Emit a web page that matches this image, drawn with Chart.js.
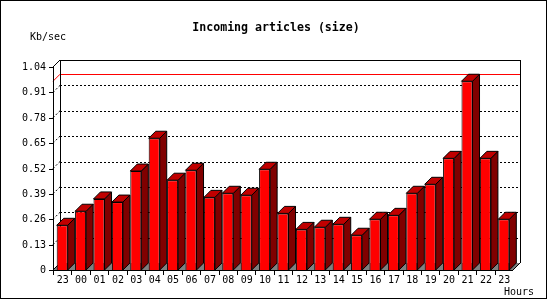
<!DOCTYPE html>
<html>
<head>
<meta charset="utf-8">
<script src="https://cdn.jsdelivr.net/npm/chart.js@4.4.1/dist/chart.umd.min.js"></script>
<style>
  html, body { margin: 0; padding: 0; background: #fff; }
  #wrap { width: 550px; height: 300px; }
</style>
</head>
<body>
<div id="wrap"><canvas id="myChart" width="550" height="300"></canvas></div>
<script>
// Incoming articles (size), Kb/sec per hour
var hours = ["23", "00", "01", "02", "03", "04", "05", "06", "07", "08", "09", "10",
  "11", "12", "13", "14", "15", "16", "17", "18", "19", "20", "21", "22", "23"];
var sizeKb = [0.229, 0.301, 0.364, 0.348, 0.507, 0.675, 0.460, 0.511, 0.372, 0.393,
  0.383, 0.516, 0.290, 0.208, 0.219, 0.234, 0.178, 0.260, 0.280, 0.393,
  0.439, 0.572, 0.967, 0.572, 0.260];
var yTicks = [0, 0.13, 0.26, 0.39, 0.52, 0.65, 0.78, 0.91, 1.04];
var yTickLabels = ["0", "0.13", "0.26", "0.39", "0.52", "0.65", "0.78", "0.91", "1.04"];

var DEPTH = 7;
var FONT = '"DejaVu Sans Mono", "Liberation Mono", monospace';

function px(v) {
  return Math.round(v) + 0.5;
}

function line(ctx, x1, y1, x2, y2) {
  ctx.beginPath();
  ctx.moveTo(x1, y1);
  ctx.lineTo(x2, y2);
  ctx.stroke();
}

var box3d = {
  id: "box3d",
  beforeDraw: function (chart) {
    var ctx = chart.ctx;
    ctx.save();
    ctx.fillStyle = "#fff";
    ctx.fillRect(0, 0, chart.width, chart.height);
    ctx.strokeStyle = "#000";
    ctx.lineWidth = 1;
    ctx.strokeRect(0.5, 0.5, 546, 298);

    ctx.fillStyle = "#000";
    ctx.textAlign = "center";
    ctx.textBaseline = "middle";
    ctx.font = "bold 11.6px " + FONT;
    ctx.fillText("Incoming articles (size)", 276, 28);
    ctx.font = "10px " + FONT;
    ctx.textAlign = "left";
    ctx.fillText("Kb/sec", 30, 37);
    ctx.textAlign = "right";
    ctx.fillText("Hours", 534, 292);
    ctx.restore();
  },
  beforeDatasetsDraw: function (chart) {
    var ctx = chart.ctx;
    var a = chart.chartArea;
    var y = chart.scales.y;
    var L = a.left, R = a.right, T = a.top, B = a.bottom;
    ctx.save();
    ctx.lineWidth = 1;

    // floor
    ctx.fillStyle = "#808080";
    ctx.beginPath();
    ctx.moveTo(L, B);
    ctx.lineTo(R, B);
    ctx.lineTo(R + DEPTH, B - DEPTH);
    ctx.lineTo(L + DEPTH, B - DEPTH);
    ctx.closePath();
    ctx.fill();

    // dotted grid on back wall and left wall
    ctx.strokeStyle = "#000";
    ctx.setLineDash([2, 2]);
    yTicks.forEach(function (v) {
      if (v <= 0 || v >= y.max) return;
      var yy = y.getPixelForValue(v);
      line(ctx, L + DEPTH, px(yy - DEPTH), R + DEPTH, px(yy - DEPTH));
      line(ctx, L, yy, L + DEPTH, yy - DEPTH);
    });
    ctx.setLineDash([]);

    // max line
    var maxV = Math.max.apply(null, sizeKb);
    var ym = y.getPixelForValue(maxV);
    ctx.strokeStyle = "#ff0000";
    line(ctx, L + DEPTH, px(ym - DEPTH), R + DEPTH, px(ym - DEPTH));
    line(ctx, L, ym, L + DEPTH, ym - DEPTH);

    // walls
    ctx.strokeStyle = "#000";
    line(ctx, px(L + DEPTH), T - DEPTH, px(L + DEPTH), B - DEPTH);
    line(ctx, L + DEPTH, px(T - DEPTH), R + DEPTH, px(T - DEPTH));
    line(ctx, px(R + DEPTH), T - DEPTH, px(R + DEPTH), B - DEPTH);
    line(ctx, L, T, L + DEPTH, T - DEPTH);
    line(ctx, L, B, L + DEPTH, B - DEPTH);
    line(ctx, R, B, R + DEPTH, B - DEPTH);

    // bar tops and sides
    var meta = chart.getDatasetMeta(0);
    meta.data.forEach(function (bar) {
      var l = bar.x - bar.width / 2;
      var r = bar.x + bar.width / 2;
      var t = bar.y;
      var b = bar.base;
      ctx.fillStyle = "#800000";
      ctx.beginPath();
      ctx.moveTo(r, t);
      ctx.lineTo(r + DEPTH, t - DEPTH);
      ctx.lineTo(r + DEPTH, b - DEPTH);
      ctx.lineTo(r, b);
      ctx.closePath();
      ctx.fill();
      ctx.stroke();
      ctx.fillStyle = "#c00000";
      ctx.beginPath();
      ctx.moveTo(l, t);
      ctx.lineTo(l + DEPTH, t - DEPTH);
      ctx.lineTo(r + DEPTH, t - DEPTH);
      ctx.lineTo(r, t);
      ctx.closePath();
      ctx.fill();
      ctx.stroke();
    });
    ctx.restore();
  },
  afterDatasetsDraw: function (chart) {
    var ctx = chart.ctx;
    var a = chart.chartArea;
    var x = chart.scales.x;
    var y = chart.scales.y;
    ctx.save();
    ctx.strokeStyle = "#000";
    ctx.fillStyle = "#000";
    ctx.lineWidth = 1;

    // front axes
    line(ctx, px(a.left), a.top, px(a.left), a.bottom + 1);
    line(ctx, a.left, px(a.bottom), a.right, px(a.bottom));

    ctx.font = "10px " + FONT;
    ctx.textBaseline = "middle";
    ctx.textAlign = "right";
    yTicks.forEach(function (v, i) {
      var yy = px(y.getPixelForValue(v));
      line(ctx, a.left - 4, yy, a.left, yy);
      ctx.fillText(yTickLabels[i], a.left - 7, yy);
    });

    ctx.textAlign = "center";
    hours.forEach(function (h, i) {
      var xb = px(x.getPixelForValue(i - 0.5));
      line(ctx, xb, a.bottom, xb, a.bottom + 5);
      ctx.fillText(h, x.getPixelForValue(i) + 0.5, a.bottom + 10);
    });
    ctx.restore();
  }
};

var ctx = document.getElementById("myChart").getContext("2d");
var chart = new Chart(ctx, {
  type: "bar",
  data: {
    labels: hours,
    datasets: [{
      label: "Kb/sec",
      data: sizeKb,
      backgroundColor: "#ff0000",
      borderColor: "#000",
      borderWidth: 1,
      barPercentage: 0.6,
      categoryPercentage: 1
    }]
  },
  options: {
    responsive: false,
    animation: false,
    layout: { padding: { left: 53, right: 37, top: 67, bottom: 30 } },
    plugins: {
      legend: { display: false },
      title: { display: false },
      tooltip: { enabled: false }
    },
    scales: {
      x: { display: false },
      y: { display: false, min: 0, max: 1.04 }
    }
  },
  plugins: [box3d]
});
</script>
</body>
</html>
